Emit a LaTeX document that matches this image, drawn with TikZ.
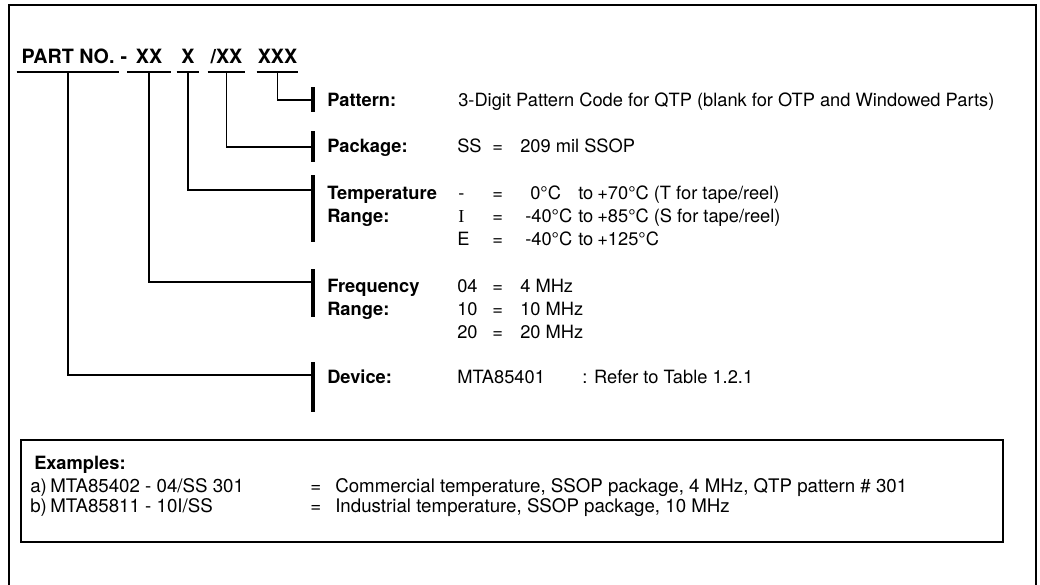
\documentclass[tikz,border=0pt]{standalone}
\usepackage{fontspec}
\setmainfont{TeX Gyre Heros}
\newfontfamily\romanI{Liberation Serif}
\usetikzlibrary{calc}

\tikzset{
    code/.style={font=\fontsize{14pt}{17pt}\selectfont\bfseries, anchor=base,
        inner xsep=0pt, inner ysep=6.4pt, text depth=0pt},
    lbl/.style={font=\fontsize{13pt}{16pt}\selectfont\bfseries, anchor=base west, inner sep=0pt},
    val/.style={font=\fontsize{13pt}{16pt}\selectfont, anchor=base west, inner sep=0pt},
    exval/.style={val, font=\fontsize{13.3pt}{16pt}\selectfont},
    wire/.style={line width=1.4pt, black},
    bar/.style={line width=3pt, black},
}

\begin{document}
\begin{tikzpicture}[x=0.025cm, y=-0.025cm]
    \useasboundingbox (0,0) rectangle (1040,585);

    % 外框（底边开口）
    \draw[line width=1.2pt] (9,585) -- (9,5) -- (1036,5) -- (1036,585);

    % 料号各段
    \node[code, minimum width=2.55cm] (pn) at (68,63) {PART NO.};
    \node[code] (dash) at (124,63) {-};
    \node[code, minimum width=1.075cm] (fq) at (149,63) {XX};
    \node[code, minimum width=0.55cm] (tp) at (188,63) {X};
    \node[code, minimum width=0.925cm] (pk) at (226.5,63) {/XX};
    \node[code, minimum width=1.025cm] (pt) at (277.5,63) {XXX};

    % 下划线
    \foreach \n in {pn,fq,tp,pk,pt}
        \draw[wire] (\n.south west) -- (\n.south east);

    % 竖条上的连接点
    \coordinate (jpt) at (313,100);
    \coordinate (jpk) at (313,147);
    \coordinate (jtp) at (313,190);
    \coordinate (jfq) at (313,282);
    \coordinate (jpn) at (313,375);

    % 引线
    \draw[wire] (pt.south) |- (jpt);
    \draw[wire] (pk.south) |- (jpk);
    \draw[wire] (tp.south) |- (jtp);
    \draw[wire] (fq.south) |- (jfq);
    \draw[wire] (pn.south) |- (jpn);

    % 粗竖条
    \foreach \t/\b in {87/112, 131/162, 175/242, 269/317, 362/412}
        \draw[bar] (313,\t) -- (313,\b);

    % 标题
    \node[lbl] (lpt) at (327,106) {Pattern:};
    \node[lbl] (lpk) at (327,152) {Package:};
    \node[lbl] (ltp) at (327,199) {Temperature};
    \node[lbl] (ltp2) at (327,222) {Range:};
    \node[lbl] (lfq) at (327,292) {Frequency};
    \node[lbl] (lfq2) at (327,315) {Range:};
    \node[lbl] (ldv) at (327,383) {Device:};

    % 说明
    \node[val] (vpt) at (458,106) {3-Digit Pattern Code for QTP (blank for OTP and Windowed Parts)};

    \node[val] (vpk) at (457,152) {SS};
    \node[val] (vpke) at (492,152) {=};
    \node[val] (vpkt) at (520,152) {209 mil SSOP};

    \node[val] (vc) at (458,199) {-};
    \node[val] (vce) at (492,199) {=};
    \node[val] (vclo) at (530,199) {0°C};
    \node[val] (vcto) at (578,199) {to};
    \node[val] (vchi) at (597,199) {+70°C (T for tape/reel)};

    \node[val] (vi) at (458,222) {\romanI I};
    \node[val] (vie) at (492,222) {=};
    \node[val] (vilo) at (525,222) {-40°C};
    \node[val] (vito) at (578,222) {to};
    \node[val] (vihi) at (597,222) {+85°C (S for tape/reel)};

    \node[val] (ve) at (457,245) {E};
    \node[val] (vee) at (492,245) {=};
    \node[val] (velo) at (525,245) {-40°C};
    \node[val] (veto) at (578,245) {to};
    \node[val] (vehi) at (597,245) {+125°C};

    \node[val] (v04) at (457,292) {04};
    \node[val] (v04e) at (492,292) {=};
    \node[val] (v04t) at (520,292) {4 MHz};
    \node[val] (v10) at (457,315) {10};
    \node[val] (v10e) at (492,315) {=};
    \node[val] (v10t) at (520,315) {10 MHz};
    \node[val] (v20) at (457,338) {20};
    \node[val] (v20e) at (492,338) {=};
    \node[val] (v20t) at (520,338) {20 MHz};

    \node[val] (vdv) at (457,383) {MTA85401};
    \node[val] (vdvt) at (582,383) {: Refer to Table 1.2.1};

    % 示例框
    \draw[line width=1.2pt] (21,440) rectangle (1003,542);
    \node[lbl] (exh) at (34,469) {Examples:};
    \node[exval] (exa) at (30,492) {a)};
    \node[exval] (exan) at (50,492) {MTA85402 - 04/SS 301};
    \node[exval] (exae) at (310,492) {=};
    \node[exval] (exat) at (335,492) {Commercial temperature, SSOP package, 4 MHz, QTP pattern \# 301};
    \node[exval] (exb) at (30,512) {b)};
    \node[exval] (exbn) at (50,512) {MTA85811 - 10I/SS};
    \node[exval] (exbe) at (310,512) {=};
    \node[exval] (exbt) at (335,512) {Industrial temperature, SSOP package, 10 MHz};
\end{tikzpicture}
\end{document}
